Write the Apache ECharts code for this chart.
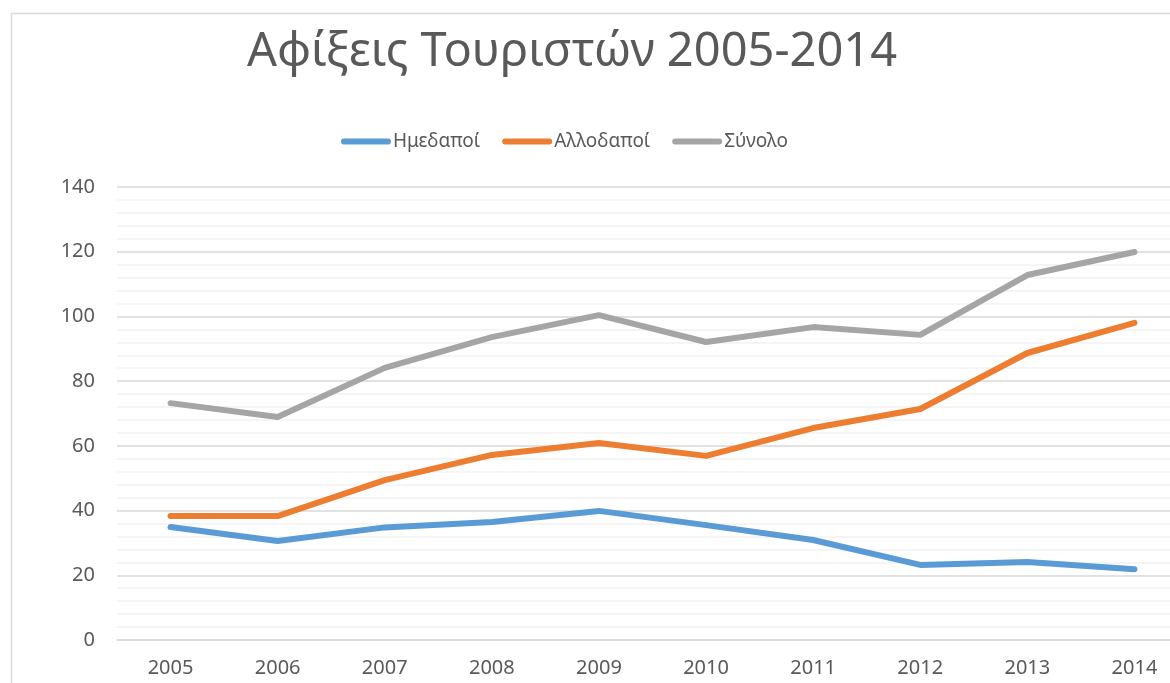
<!DOCTYPE html>
<html>
<head>
<meta charset="utf-8">
<script src="https://cdn.jsdelivr.net/npm/echarts@6/dist/echarts.min.js"></script>
<style>
  html, body { margin: 0; padding: 0; background: #fff; overflow: hidden; }
  /* the chart runs past the right edge of the window, as in the reference */
  #chart { width: 1200px; height: 683px; }
</style>
</head>
<body>
<div id="chart"></div>
<script>
// years on the x axis
const years = ['2005', '2006', '2007', '2008', '2009', '2010', '2011', '2012', '2013', '2014']
// arrivals
const domestic = [34.9, 30.6, 34.8, 36.5, 39.9, 35.5, 30.9, 23.2, 24.1, 21.9]
const foreign = [38.3, 38.3, 49.4, 57.2, 60.9, 56.9, 65.5, 71.4, 88.7, 98.0]
const total = [73.2, 68.9, 84.1, 93.6, 100.4, 92.1, 96.7, 94.3, 112.8, 119.9]

const seriesNames = ['Ημεδαποί', 'Αλλοδαποί', 'Σύνολο']
const colours = ['#5b9bd5', '#ed7d31', '#a5a5a5']

const FONT = '"Noto Sans", "Open Sans", sans-serif'
const TEXT = '#595959'

const chart = echarts.init(document.getElementById('chart'), null, { renderer: 'canvas' })

function lineSeries (name, data, colour) {
  return {
    name: name,
    type: 'line',
    data: data,
    symbol: 'none',
    smooth: false,
    lineStyle: { width: 6, color: colour, cap: 'round', join: 'round' },
    itemStyle: { color: colour },
    emphasis: { disabled: true }
  }
}

const option = {
  animation: false,
  color: colours,
  graphic: [
    {
      // chart area border, cut off at the right and bottom
      type: 'rect',
      shape: { x: 11.5, y: 13.5, width: 1250, height: 720 },
      style: { fill: null, stroke: '#d9d9d9', lineWidth: 1.5 },
      silent: true
    }
  ],
  title: {
    text: 'Αφίξεις Τουριστών 2005-2014',
    left: 567,
    top: 24,
    textAlign: 'center',
    textStyle: { fontFamily: FONT, fontSize: 47, fontWeight: 'normal', color: TEXT }
  },
  legend: {
    data: seriesNames,
    top: 127,
    left: 336,
    itemWidth: 50,
    itemHeight: 6,
    itemGap: 22,
    icon: 'path://M3,0 H47 A3,3 0 0 1 47,6 H3 A3,3 0 0 1 3,0 Z',
    textStyle: { fontFamily: FONT, fontSize: 19, color: TEXT, padding: [0, 0, 0, -3] }
  },
  grid: { left: 117, top: 187, width: 1071, height: 453, containLabel: false },
  xAxis: {
    type: 'category',
    data: years,
    boundaryGap: true,
    axisLine: { show: true, lineStyle: { color: '#d9d9d9', width: 1.5 } },
    axisTick: { show: false },
    axisLabel: { fontFamily: FONT, fontSize: 20, color: TEXT, margin: 18 },
    splitLine: { show: false }
  },
  yAxis: {
    type: 'value',
    min: 0,
    max: 140,
    interval: 20,
    axisLine: { show: false },
    axisTick: { show: false },
    axisLabel: { fontFamily: FONT, fontSize: 20, color: TEXT, margin: 22 },
    splitLine: { show: true, lineStyle: { color: '#d9d9d9', width: 1.5 } },
    minorTick: { show: false, splitNumber: 5 },
    minorSplitLine: { show: true, lineStyle: { color: '#f2f2f2', width: 1.5 } }
  },
  series: [
    lineSeries(seriesNames[0], domestic, colours[0]),
    lineSeries(seriesNames[1], foreign, colours[1]),
    lineSeries(seriesNames[2], total, colours[2])
  ]
}

chart.setOption(option)
</script>
</body>
</html>
